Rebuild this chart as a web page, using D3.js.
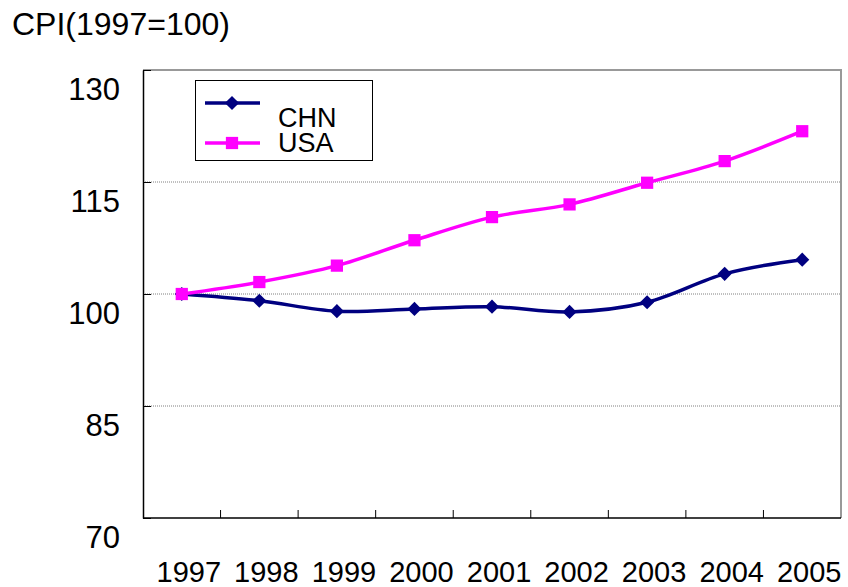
<!DOCTYPE html>
<html>
<head>
<meta charset="utf-8">
<script src="https://cdn.jsdelivr.net/npm/d3@7"></script>
<style>
  body { margin: 0; background: #fff; }
  svg { font-family: "Liberation Sans", Arial, sans-serif; }
</style>
</head>
<body>
<svg id="chart" width="848" height="587"></svg>
<script>
// data
const years = ["1997", "1998", "1999", "2000", "2001", "2002", "2003", "2004", "2005"];
const chn = [100, 99.1, 97.7, 98.0, 98.3, 97.6, 98.9, 102.7, 104.6];
const usa = [100, 101.6, 103.8, 107.2, 110.3, 112.0, 114.9, 117.8, 121.8];
const yTicks = [70, 85, 100, 115, 130];
const gridTicks = [85, 100, 115];

const svg = d3.select("#chart");
const margin = { top: 70, right: 7, bottom: 69, left: 143 };
const width = 848 - margin.left - margin.right;
const height = 587 - margin.top - margin.bottom;

const g = svg.append("g").attr("transform", `translate(${margin.left}, ${margin.top})`);

const x = d3.scaleBand().domain(years).range([0, width]).padding(0);
const y = d3.scaleLinear().domain([70, 130]).range([height, 0]);
const cx = d => x(d) + x.bandwidth() / 2;

// dotted gridlines
g.selectAll(".grid")
    .data(gridTicks)
    .enter().append("line")
    .attr("x1", 0).attr("x2", width)
    .attr("y1", d => y(d)).attr("y2", d => y(d))
    .attr("stroke", "#808080")
    .attr("stroke-width", 1)
    .attr("stroke-dasharray", "1,1");

// top and right frame (grey)
g.append("path")
    .attr("d", `M0,0H${width}V${height}`)
    .attr("fill", "none")
    .attr("stroke", "#999")
    .attr("stroke-width", 2);

// left axis
const yAxis = g.append("g")
    .call(d3.axisLeft(y).tickValues(yTicks).tickSize(-8).tickSizeOuter(0).tickPadding(23));
yAxis.select(".domain").attr("stroke", "#000").attr("stroke-width", 1.5);
yAxis.selectAll(".tick line").attr("stroke", "#000");
yAxis.selectAll("text")
    .attr("dy", "29px")
    .style("font-size", "31px")
    .attr("fill", "#000");

// bottom axis line + ticks at category boundaries
g.append("line")
    .attr("x1", 0).attr("x2", width)
    .attr("y1", height).attr("y2", height)
    .attr("stroke", "#000").attr("stroke-width", 1.5);
g.selectAll(".xtick")
    .data(years.slice(1))
    .enter().append("line")
    .attr("x1", d => x(d)).attr("x2", d => x(d))
    .attr("y1", height).attr("y2", height - 8)
    .attr("stroke", "#000");

// bottom labels
const xAxis = g.append("g")
    .attr("transform", `translate(7, ${height})`)
    .call(d3.axisBottom(x).tickSize(0).tickPadding(43));
xAxis.select(".domain").remove();
xAxis.selectAll("text").style("font-size", "29px").attr("fill", "#000");

// lines
const series = [
    { name: "CHN", values: chn, color: "#000080", shape: "diamond" },
    { name: "USA", values: usa, color: "#ff00ff", shape: "square" }
];

const line = d3.line()
    .x((d, i) => cx(years[i]))
    .y(d => y(d))
    .curve(d3.curveCatmullRom.alpha(0));

const diamond = d3.symbol().type(d3.symbolSquare).size(100)();
const square = d3.symbol().type(d3.symbolSquare).size(150)();

series.forEach(s => {
    g.append("path")
        .datum(s.values)
        .attr("fill", "none")
        .attr("stroke", s.color)
        .attr("stroke-width", 3.5)
        .attr("d", line);

    g.selectAll(".m-" + s.name)
        .data(s.values)
        .enter().append("path")
        .attr("class", "m-" + s.name)
        .attr("d", s.shape === "diamond" ? diamond : square)
        .attr("fill", s.color)
        .attr("transform", (d, i) => `translate(${cx(years[i])}, ${y(d)})` + (s.shape === "diamond" ? " rotate(45)" : ""));
});

// legend
const legend = svg.append("g").attr("transform", "translate(195, 80)");
legend.append("rect")
    .attr("x", 0.5).attr("y", 0.5)
    .attr("width", 177).attr("height", 80)
    .attr("fill", "#fff")
    .attr("stroke", "#000").attr("stroke-width", 1);

const legendItem = legend.selectAll(".legend-item")
    .data(series)
    .enter().append("g")
    .attr("class", "legend-item")
    .attr("transform", (d, i) => `translate(0, ${23 + i * 40})`);

legendItem.append("line")
    .attr("x1", 10).attr("x2", 65)
    .attr("stroke", d => d.color)
    .attr("stroke-width", 3.5);
legendItem.append("path")
    .attr("d", d => d.shape === "diamond" ? diamond : square)
    .attr("fill", d => d.color)
    .attr("transform", d => "translate(37, 0)" + (d.shape === "diamond" ? " rotate(45)" : ""));
legendItem.append("text")
    .attr("x", 83)
    .attr("y", (d, i) => i === 0 ? 24 : 9)
    .style("font-size", "27px")
    .attr("fill", "#000")
    .text(d => d.name);

// axis title
svg.append("text")
    .attr("x", 12)
    .attr("y", 35)
    .style("font-size", "32px")
    .attr("fill", "#000")
    .text("CPI(1997=100)");
</script>
</body>
</html>
